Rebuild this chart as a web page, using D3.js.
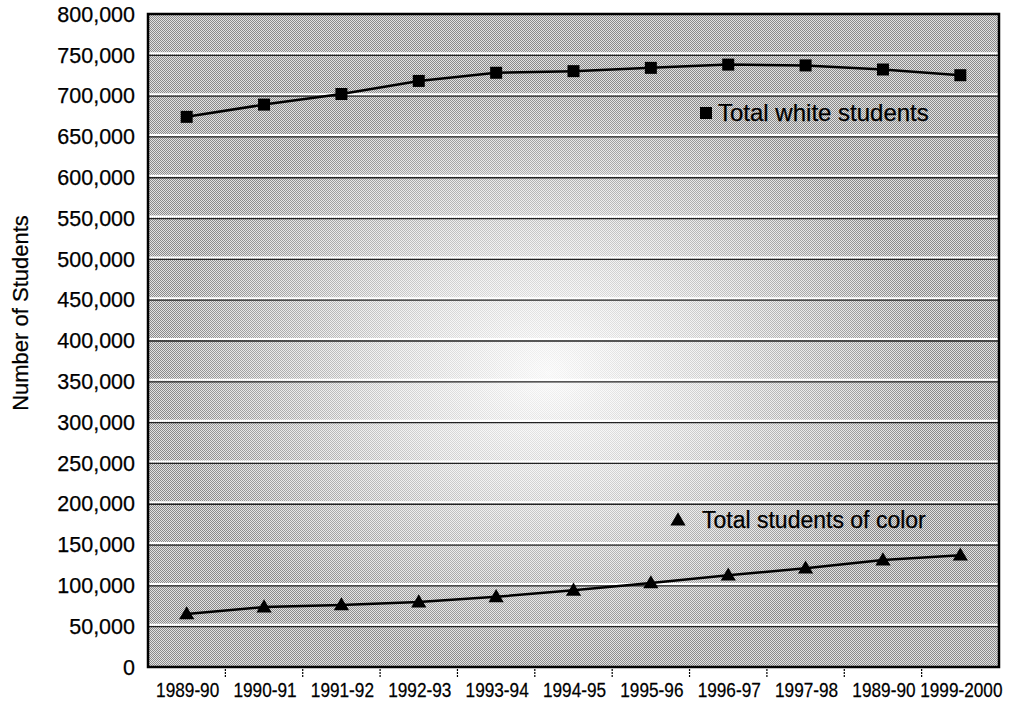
<!DOCTYPE html>
<html>
<head>
<meta charset="utf-8">
<script src="https://cdn.jsdelivr.net/npm/d3@7"></script>
<style>
  body { margin: 0; background: #fff; }
  text { font-family: Arial, "Liberation Sans", Helvetica, sans-serif; fill: #000; stroke: #000; stroke-width: 0.25px; }
</style>
</head>
<body>
<svg id="chart"></svg>
<script>
// ---- THE DATA ---- //
const categories = ["1989-90", "1990-91", "1991-92", "1992-93", "1993-94", "1994-95",
  "1995-96", "1996-97", "1997-98", "1989-90 ", "1999-2000"];
const whiteStudents = [674000, 689000, 702000, 718000, 728000, 730000, 734000, 738000, 737000, 732000, 725000];
const colorStudents = [65000, 73500, 76000, 79500, 86000, 94000, 103000, 112500, 121000, 131000, 137000];
const yTicks = [0, 50000, 100000, 150000, 200000, 250000, 300000, 350000, 400000,
  450000, 500000, 550000, 600000, 650000, 700000, 750000, 800000];
const seriesNames = ["Total white students", "Total students of color"];

// ---- THE CHART ---- //
const margin = {top: 14, right: 18, bottom: 35, left: 148},
  width = 1017 - margin.left - margin.right,
  height = 702 - margin.top - margin.bottom;

const root = d3.select("#chart")
  .attr("width", width + margin.left + margin.right)
  .attr("height", height + margin.top + margin.bottom);

const svg = root.append("g")
  .attr("transform", "translate(" + margin.left + "," + margin.top + ")");

// scales
const xScale = d3.scalePoint()
  .domain(categories)
  .range([0, width])
  .padding(0.5);
const xBand = d3.scaleBand()
  .domain(categories)
  .range([0, width]);
const yScale = d3.scaleLinear()
  .domain([0, 800000])
  .range([height, 0]);

// halftone background (fine checker dither + lighter centre)
const defs = root.append("defs");
const pat = defs.append("pattern")
  .attr("id", "dots")
  .attr("patternUnits", "userSpaceOnUse")
  .attr("width", 2).attr("height", 2);
pat.append("rect").attr("width", 2).attr("height", 2).attr("fill", "#e2e2e2");
[[0, 0], [1, 1]].forEach(p => {
  pat.append("rect").attr("x", p[0]).attr("y", p[1])
    .attr("width", 1).attr("height", 1).attr("fill", "#8a8a8a");
});
const glow = defs.append("radialGradient")
  .attr("id", "glow")
  .attr("cx", 0.47).attr("cy", 0.55).attr("r", 0.45);
glow.append("stop").attr("offset", 0).attr("stop-color", "#fff").attr("stop-opacity", 0.92);
glow.append("stop").attr("offset", 0.4).attr("stop-color", "#fff").attr("stop-opacity", 0.6);
glow.append("stop").attr("offset", 1).attr("stop-color", "#fff").attr("stop-opacity", 0);

svg.append("rect")
  .attr("width", width).attr("height", height)
  .attr("fill", "url(#dots)");
svg.append("rect")
  .attr("width", width).attr("height", height)
  .attr("fill", "url(#glow)");

// gridlines
const grid = svg.append("g").attr("class", "grid");
grid.selectAll(".gw")
  .data(yTicks.slice(1, -1))
  .enter().append("line")
    .attr("x1", 0).attr("x2", width)
    .attr("y1", d => yScale(d) - 1.5).attr("y2", d => yScale(d) - 1.5)
    .style("stroke", "#fff").attr("stroke-width", 2);
grid.selectAll(".gd")
  .data(yTicks.slice(1, -1))
  .enter().append("line")
    .attr("x1", 0).attr("x2", width)
    .attr("y1", d => yScale(d) + 0.5).attr("y2", d => yScale(d) + 0.5)
    .style("stroke", "#222").attr("stroke-width", 1.3);

// frame
svg.append("rect")
  .attr("width", width).attr("height", height)
  .attr("fill", "none")
  .style("stroke", "#000").attr("stroke-width", 2.5);

// y axis labels
svg.append("g").selectAll("text")
  .data(yTicks)
  .enter().append("text")
    .attr("x", -13)
    .attr("y", d => yScale(d))
    .attr("dy", "0.36em")
    .attr("text-anchor", "end")
    .style("font-size", "21.5px")
    .text(d => d3.format(",")(d));

// x axis ticks (between categories) and labels
svg.append("g").selectAll("line")
  .data(categories.slice(1))
  .enter().append("line")
    .attr("x1", d => xBand(d)).attr("x2", d => xBand(d))
    .attr("y1", height + 2).attr("y2", height + 11)
    .style("stroke", "#000").attr("stroke-width", 1.2)
    .style("stroke-dasharray", "2,1");

// condensed labels: squeeze horizontally
svg.append("g").selectAll("text")
  .data(categories)
  .enter().append("text")
    .attr("transform", d => "translate(" + (xScale(d) + 1) + "," + (height + 30) + ") scale(0.84,1)")
    .attr("text-anchor", "middle")
    .style("font-size", "20.5px")
    .text(d => d.trim());

// y axis title
root.append("text")
  .attr("transform", "translate(28," + (margin.top + 299) + ") rotate(-90)")
  .attr("text-anchor", "middle")
  .style("font-size", "22px")
  .text("Number of Students");

// ---- THE LINES ---- //
const lineGen = d3.line()
  .x((d, i) => xScale(categories[i]))
  .y(d => yScale(d));

svg.append("path")
  .attr("d", lineGen(whiteStudents))
  .attr("fill", "none")
  .style("stroke", "#000").attr("stroke-width", 2.5);
svg.append("path")
  .attr("d", lineGen(colorStudents))
  .attr("fill", "none")
  .style("stroke", "#000").attr("stroke-width", 2.5);

// markers
const square = d3.symbol().type(d3.symbolSquare).size(144);
const triangle = d3.symbol().type(d3.symbolTriangle).size(100);

svg.selectAll(".sq")
  .data(whiteStudents)
  .enter().append("path")
    .attr("class", "sq")
    .attr("d", square)
    .attr("transform", (d, i) => "translate(" + xScale(categories[i]) + "," + yScale(d) + ")");
svg.selectAll(".tri")
  .data(colorStudents)
  .enter().append("path")
    .attr("class", "tri")
    .attr("d", triangle)
    .attr("transform", (d, i) => "translate(" + xScale(categories[i]) + "," + (yScale(d) + 1) + ")");

// ---- LEGEND ---- //
const legend = root.append("g");
legend.append("path")
  .attr("d", square)
  .attr("transform", "translate(706,113)");
legend.append("text")
  .attr("x", 718).attr("y", 121)
  .style("font-size", "24px")
  .text(seriesNames[0]);
legend.append("path")
  .attr("d", triangle)
  .attr("transform", "translate(678,521)");
legend.append("text")
  .attr("x", 702).attr("y", 528)
  .style("font-size", "23px")
  .text(seriesNames[1]);
</script>
</body>
</html>
